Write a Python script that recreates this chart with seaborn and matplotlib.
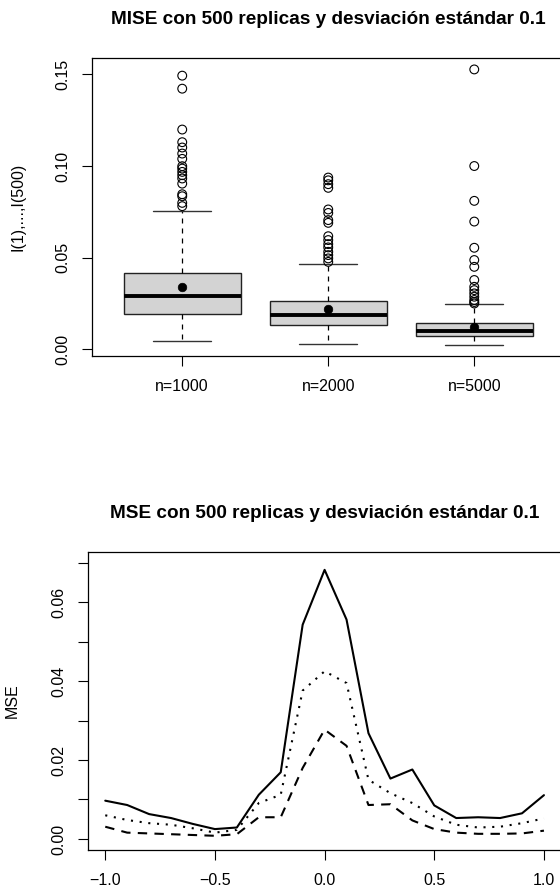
"""MISE boxplots and MSE curves for 500 replicas, sd 0.1."""

import matplotlib

matplotlib.use("Agg")
import matplotlib.pyplot as plt
import numpy as np
import pandas as pd
import seaborn as sns

# --- data --------------------------------------------------------------
groups = ["n=1000", "n=2000", "n=5000"]
q1 = [0.0191, 0.0132, 0.0071]
med = [0.0292, 0.0185, 0.0101]
q3 = [0.0417, 0.0265, 0.0142]
mean = [0.0338, 0.0220, 0.0122]
whis_lo = [0.0047, 0.0029, 0.0022]
whis_hi = [0.0755, 0.0465, 0.0245]
out_1000 = [0.1493, 0.1422, 0.1199, 0.1130, 0.1101, 0.1068, 0.1039, 0.0999,
            0.0986, 0.0968, 0.0950, 0.0932, 0.0904, 0.0846, 0.0835, 0.0799,
            0.0781]
out_2000 = [0.0937, 0.0922, 0.0901, 0.0881, 0.0763, 0.0744, 0.0705, 0.0690,
            0.0617, 0.0596, 0.0574, 0.0556, 0.0532, 0.0514, 0.0496, 0.0477]
out_5000 = [0.1527, 0.1000, 0.0810, 0.0697, 0.0554, 0.0487, 0.0450, 0.0378,
            0.0341, 0.0323, 0.0305, 0.0287, 0.0269, 0.0258, 0.0250]

x_grid = [-1.0, -0.9, -0.8, -0.7, -0.6, -0.5, -0.4, -0.3, -0.2, -0.1, 0.0,
          0.1, 0.2, 0.3, 0.4, 0.5, 0.6, 0.7, 0.8, 0.9, 1.0]
mse_1000 = [0.0097, 0.0086, 0.0063, 0.0053, 0.0038, 0.0025, 0.0029, 0.0112,
            0.0169, 0.0543, 0.0682, 0.0556, 0.0268, 0.0153, 0.0176, 0.0085,
            0.0053, 0.0055, 0.0053, 0.0065, 0.0111]
mse_2000 = [0.0060, 0.0048, 0.0040, 0.0036, 0.0027, 0.0016, 0.0023, 0.0091,
            0.0112, 0.0376, 0.0425, 0.0395, 0.0150, 0.0116, 0.0091, 0.0057,
            0.0036, 0.0029, 0.0031, 0.0040, 0.0052]
mse_5000 = [0.0031, 0.0016, 0.0014, 0.0012, 0.0010, 0.0008, 0.0012, 0.0055,
            0.0055, 0.0180, 0.0277, 0.0236, 0.0086, 0.0088, 0.0047, 0.0025,
            0.0016, 0.0013, 0.0013, 0.0014, 0.0021]

top_yticks = [0.00, 0.05, 0.10, 0.15]
top_ylabels = ["0.00", "0.05", "0.10", "0.15"]
bot_yticks = [0.00, 0.01, 0.02, 0.03, 0.04, 0.05, 0.06, 0.07]
bot_ylabels = ["0.00", "", "0.02", "", "0.04", "", "0.06", ""]
bot_xticks = [-1.0, -0.5, 0.0, 0.5, 1.0]
bot_xlabels = ["\u22121.0", "\u22120.5", "0.0", "0.5", "1.0"]

# --- style -------------------------------------------------------------
sns.set_theme(style="ticks")
plt.rcParams["font.family"] = ["Liberation Sans", "DejaVu Sans"]
plt.rcParams["axes.linewidth"] = 0.9
plt.rcParams["axes.edgecolor"] = "black"
plt.rcParams["text.color"] = "black"
plt.rcParams["axes.labelcolor"] = "black"
FS = 11.5

fig = plt.figure(figsize=(5.6, 8.93), dpi=100)
W, H = 560.0, 893.0


def add_axes(left, right, top, bottom):
    return fig.add_axes([left / W, 1 - bottom / H, (right - left) / W, (bottom - top) / H])


def style_axes(ax):
    for side in ["left", "right", "top", "bottom"]:
        ax.spines[side].set_visible(True)
        ax.spines[side].set_color("black")
    ax.tick_params(axis="x", pad=9.5)
    ax.tick_params(axis="y", pad=8)
    ax.tick_params(axis="both", direction="out", length=7.2, width=0.8,
                   color="black", labelsize=FS, labelcolor="black")
    plt.setp(ax.get_yticklabels(), rotation=90, va="center")
    ax.grid(False)


# --- top: boxplots -----------------------------------------------------
ax1 = add_axes(91.7, 564.8, 57.7, 356.0)
stats = [
    dict(med=m, q1=a, q3=b, whislo=lo, whishi=hi, mean=mu, fliers=[])
    for m, a, b, lo, hi, mu in zip(med, q1, q3, whis_lo, whis_hi, mean)
]
ax1.bxp(
    stats, positions=[0, 1, 2], widths=0.8, capwidths=0.4, patch_artist=True,
    showmeans=False, showfliers=False,
    boxprops=dict(facecolor="#d3d3d3", edgecolor="#222222", linewidth=1.0),
    medianprops=dict(color="black", linewidth=2.8, solid_capstyle="butt"),
    whiskerprops=dict(color="black", linewidth=0.9, linestyle=(0, (4, 4))),
    capprops=dict(color="#333333", linewidth=1.0),
)
fliers = pd.DataFrame({
    "x": [0] * len(out_1000) + [1] * len(out_2000) + [2] * len(out_5000),
    "y": out_1000 + out_2000 + out_5000,
})
sns.scatterplot(data=fliers, x="x", y="y", ax=ax1, marker="o", s=40,
                facecolors="none", edgecolor="black", linewidth=0.8, zorder=5)
means = pd.DataFrame({"x": [0, 1, 2], "y": mean})
sns.scatterplot(data=means, x="x", y="y", ax=ax1, marker="o", s=38,
                color="black", edgecolor="black", zorder=6)
ax1.set_xlim(-0.62, 2.62)
ax1.set_ylim(-0.00365, 0.1591)
ax1.set_xticks([0, 1, 2])
ax1.set_xticklabels(groups)
ax1.set_yticks(top_yticks)
ax1.set_yticklabels(top_ylabels)
ax1.set_xlabel("")
ax1.set_ylabel("I(1),...,I(500)", fontsize=FS, color="black")
ax1.yaxis.set_label_coords(-66.7 / 473.1, 0.5)
style_axes(ax1)
ax1.text(0.5, 1 + 38.7 / 298.3, "MISE con 500 replicas y desviación estándar 0.1",
         transform=ax1.transAxes, ha="center", va="center",
         fontsize=13.7, fontweight="bold", color="black")

# --- bottom: MSE curves ------------------------------------------------
ax2 = add_axes(87.7, 561.5, 551.7, 850.0)
curves = pd.DataFrame({
    "x": x_grid * 3,
    "mse": mse_1000 + mse_2000 + mse_5000,
    "serie": ["n=1000"] * len(x_grid) + ["n=2000"] * len(x_grid) + ["n=5000"] * len(x_grid),
})
sns.lineplot(data=curves, x="x", y="mse", hue="serie", style="serie",
             palette=["black", "black", "black"],
             dashes=["", (1, 3.2), (4.5, 3.5)], linewidth=1.5,
             legend=False, ax=ax2)
ax2.set_xlim(-1.08, 1.08)
ax2.set_ylim(-0.0028, 0.0728)
ax2.set_xticks(bot_xticks)
ax2.set_xticklabels(bot_xlabels)
ax2.set_yticks(bot_yticks)
ax2.set_yticklabels(bot_ylabels)
ax2.set_xlabel("")
ax2.set_ylabel("MSE", fontsize=FS, color="black")
ax2.yaxis.set_label_coords(-68.0 / 473.8, 0.5)
style_axes(ax2)
ax2.text(0.5, 1 + 38.7 / 298.3, "MSE con 500 replicas y desviación estándar 0.1",
         transform=ax2.transAxes, ha="center", va="center",
         fontsize=13.7, fontweight="bold", color="black")

fig.savefig("out.png", dpi=100, facecolor="white")
